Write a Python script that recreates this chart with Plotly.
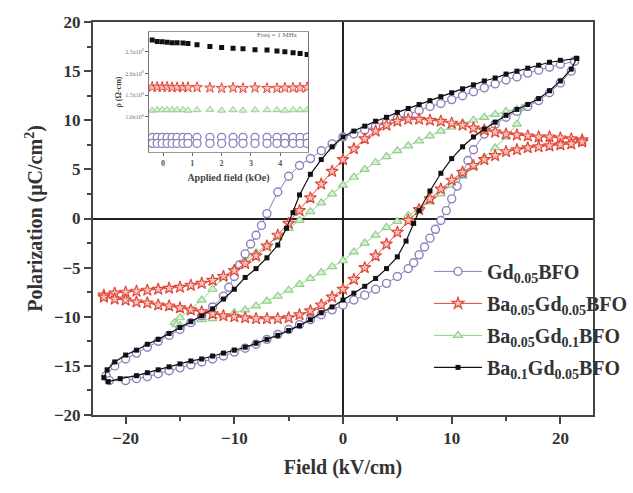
import plotly.graph_objects as go

# ---------------- main P-E loops ----------------
# Gd0.05BFO
gd_up_x = [21.3, 20, 19, 18, 17, 16, 15, 14, 13, 12, 11, 10, 9, 8, 7, 6, 5, 4, 3, 2, 1, 0, -1, -2, -3, -4, -5, -6, -7, -7.5, -8, -8.5, -9, -9.5, -10, -10.5, -11, -12, -13, -14, -15, -16, -17, -18, -19, -20, -21, -21.8]
gd_up_y = [16.0, 15.7, 15.4, 15.1, 14.8, 14.4, 14.1, 13.7, 13.3, 12.9, 12.5, 12.1, 11.7, 11.4, 11.0, 10.6, 10.2, 9.8, 9.4, 9.0, 8.6, 8.3, 7.6, 6.9, 6.1, 5.4, 4.3, 2.7, 0.5, -0.7, -1.7, -2.6, -3.6, -4.7, -5.9, -7.0, -7.9, -9.0, -9.9, -10.6, -11.3, -11.9, -12.5, -13.1, -13.7, -14.3, -15.0, -16.0]
gd_lo_x = [-21.5, -20, -19, -18, -17, -16, -15, -14, -13, -12, -11, -10, -9, -8, -7, -6, -5, -4, -3, -2, -1, 0, 1, 2, 3, 4, 5, 6, 6.5, 7, 7.5, 8, 8.5, 9, 9.5, 10, 10.5, 11, 11.5, 12, 13, 14, 15, 16, 17, 18, 19, 20, 21, 21.3]
gd_lo_y = [-16.5, -16.5, -16.3, -16.1, -15.8, -15.5, -15.2, -14.9, -14.6, -14.3, -14.0, -13.6, -13.2, -12.8, -12.3, -11.8, -11.3, -10.8, -10.3, -9.8, -9.3, -8.8, -8.3, -7.8, -7.2, -6.6, -5.9, -5.1, -4.5, -3.7, -2.9, -2.0, -1.1, -0.2, 0.8, 2.0, 3.3, 4.6, 5.9, 7.0, 8.6, 9.6, 10.3, 10.9, 11.4, 12.0, 12.8, 13.8, 15.0, 16.0]

# Ba0.05Gd0.05BFO
bg1_up_x = [22, 21, 20, 19, 18, 17, 16, 15, 14, 13, 12, 11, 10, 9, 8, 7, 6, 5, 4, 3, 2, 1, 0, -1, -2, -3, -4, -5, -6, -7, -8, -9, -10, -11, -12, -13, -14, -15, -16, -17, -18, -19, -20, -21, -22]
bg1_up_y = [8.0, 8.1, 8.2, 8.3, 8.3, 8.4, 8.5, 8.6, 8.8, 9.0, 9.2, 9.5, 9.7, 9.9, 10.0, 10.1, 10.1, 9.9, 9.5, 8.9, 8.1, 7.1, 6.0, 4.8, 3.5, 2.1, 0.8, -0.5, -1.7, -2.8, -3.8, -4.6, -5.3, -5.9, -6.3, -6.6, -6.8, -7.0, -7.1, -7.2, -7.3, -7.4, -7.5, -7.6, -7.8]
bg1_lo_x = [-22, -21, -20, -19, -18, -17, -16, -15, -14, -13, -12, -11, -10, -9, -8, -7, -6, -5, -4, -3, -2, -1, 0, 1, 2, 3, 4, 5, 6, 7, 8, 9, 10, 11, 12, 13, 14, 15, 16, 17, 18, 19, 20, 21, 22]
bg1_lo_y = [-8.0, -8.2, -8.3, -8.5, -8.6, -8.8, -8.9, -9.1, -9.3, -9.5, -9.7, -9.9, -10.0, -10.1, -10.2, -10.2, -10.2, -10.1, -9.8, -9.4, -8.8, -8.0, -7.2, -6.2, -5.0, -3.8, -2.6, -1.4, -0.2, 0.9, 2.0, 3.0, 3.9, 4.7, 5.4, 6.0, 6.4, 6.8, 7.0, 7.2, 7.3, 7.4, 7.5, 7.6, 7.8]

# Ba0.05Gd0.1BFO
bg2_up_x = [16.5, 16, 15, 14, 13, 12, 11, 10, 9, 8, 7, 6, 5, 4, 3, 2, 1, 0, -1, -2, -3, -4, -5, -6, -7, -8, -9, -10, -11, -12, -13, -14, -15, -15.5]
bg2_up_y = [11.2, 11.1, 10.9, 10.6, 10.3, 10.0, 9.7, 9.3, 8.9, 8.4, 7.9, 7.4, 6.9, 6.3, 5.7, 5.0, 4.2, 3.4, 2.5, 1.6, 0.7, -0.2, -1.0, -1.9, -2.7, -3.5, -4.3, -5.1, -6.0, -7.2, -8.3, -9.2, -10.1, -10.6]
bg2_lo_x = [-15.3, -15, -14, -13, -12, -11, -10, -9, -8, -7, -6, -5, -4, -3, -2, -1, 0, 1, 2, 3, 4, 5, 6, 7, 8, 9, 10, 11, 12, 13, 14, 15, 16, 16.5]
bg2_lo_y = [-10.8, -10.9, -10.6, -10.3, -10.2, -9.9, -9.6, -9.3, -8.9, -8.4, -7.9, -7.3, -6.7, -6.1, -5.5, -4.9, -4.3, -3.4, -2.5, -1.7, -0.9, -0.3, 0.3, 1.0, 1.7, 2.5, 3.4, 4.3, 5.2, 6.2, 7.2, 8.3, 9.6, 11.2]

# Ba0.1Gd0.05BFO
bg3_up_x = [21.5, 20, 19, 18, 17, 16, 15, 14, 13, 12, 11, 10, 9, 8, 7, 6, 5, 4, 3, 2, 1, 0, -1, -2, -3, -4, -4.6, -5.2, -6, -7, -8, -9, -10, -11, -12, -13, -14, -15, -16, -17, -18, -19, -20, -21, -21.7, -22]
bg3_up_y = [16.3, 16.1, 15.9, 15.6, 15.3, 15.0, 14.7, 14.3, 14.0, 13.6, 13.2, 12.8, 12.4, 12.0, 11.6, 11.2, 10.8, 10.3, 9.9, 9.4, 8.9, 8.3, 7.3, 6.0, 4.5, 2.4, 0.6, -1.0, -2.7, -4.0, -5.1, -6.0, -7.2, -8.2, -9.2, -9.9, -10.5, -11.1, -11.7, -12.3, -12.8, -13.4, -13.9, -14.6, -15.4, -16.2]
bg3_lo_x = [-21.6, -20.5, -19, -18, -17, -16, -15, -14, -13, -12, -11, -10, -9, -8, -7, -6, -5, -4, -3, -2, -1, 0, 1, 2, 3, 4, 5, 5.8, 6.5, 7, 8, 9, 10, 11, 12, 13, 14, 15, 16, 17, 18, 19, 20, 21, 21.5]
bg3_lo_y = [-16.6, -16.3, -16.0, -15.7, -15.4, -15.1, -14.8, -14.5, -14.3, -14.0, -13.7, -13.4, -13.1, -12.7, -12.3, -11.9, -11.4, -10.9, -10.3, -9.6, -9.0, -8.3, -7.6, -6.9, -6.1, -5.1, -3.9, -2.3, -0.5, 0.8, 2.8, 4.6, 6.1, 7.3, 8.3, 9.1, 9.8, 10.5, 11.1, 11.6, 12.2, 13.0, 14.0, 15.2, 16.3]

names = ["Gd<sub>0.05</sub>BFO", "Ba<sub>0.05</sub>Gd<sub>0.05</sub>BFO",
         "Ba<sub>0.05</sub>Gd<sub>0.1</sub>BFO", "Ba<sub>0.1</sub>Gd<sub>0.05</sub>BFO"]

# ---------------- inset: resistivity vs applied field ----------------
ins_x = [-0.37, -0.2, -0.03, 0.14, 0.31, 0.48, 0.68, 0.85, 1.16, 1.6, 2.0, 2.39, 2.73, 3.14, 3.55, 3.89, 4.16, 4.44, 4.68, 4.92]
ins_black = [2.77, 2.74, 2.73, 2.72, 2.71, 2.71, 2.70, 2.69, 2.66, 2.62, 2.60, 2.58, 2.57, 2.55, 2.54, 2.52, 2.50, 2.48, 2.46, 2.44]
ins_red = [1.69, 1.69, 1.69, 1.69, 1.68, 1.68, 1.68, 1.68, 1.68, 1.67, 1.66, 1.67, 1.66, 1.67, 1.66, 1.66, 1.67, 1.67, 1.67, 1.68]
ins_green = [1.15, 1.16, 1.16, 1.16, 1.16, 1.16, 1.16, 1.15, 1.16, 1.17, 1.15, 1.16, 1.15, 1.16, 1.16, 1.16, 1.15, 1.16, 1.16, 1.16]
ins_purple_hi = [0.53, 0.53, 0.53, 0.53, 0.53, 0.53, 0.53, 0.53, 0.53, 0.53, 0.53, 0.53, 0.53, 0.53, 0.53, 0.53, 0.53, 0.53, 0.53, 0.53]
ins_purple_lo = [0.39, 0.39, 0.39, 0.39, 0.39, 0.39, 0.39, 0.39, 0.39, 0.39, 0.39, 0.39, 0.39, 0.39, 0.39, 0.39, 0.39, 0.39, 0.39, 0.39]
ins_ytickvals = [1.0, 1.5, 2.0, 2.5]
ins_yticktext = ["1.0x10<sup>8</sup>", "1.5x10<sup>8</sup>", "2.0x10<sup>8</sup>", "2.5x10<sup>8</sup>"]
ins_xtickvals = [0, 1, 2, 3, 4]

SERIF = "Liberation Serif"
C_PUR = "#8a80bd"
C_RED = "#e2483a"
C_GRN = "#93cf8e"
C_BLK = "#111111"

fig = go.Figure()

# draw order: green, purple, red, black
fig.add_trace(go.Scatter(
    x=bg2_up_x + bg2_lo_x, y=bg2_up_y + bg2_lo_y, mode="lines+markers", name=names[2], legendrank=3,
    legendgroup="g3",
    line=dict(color=C_GRN, width=1),
    marker=dict(symbol="triangle-up", size=8, color="#d9f0d5", line=dict(color=C_GRN, width=1.2))))
fig.add_trace(go.Scatter(
    x=gd_up_x + gd_lo_x, y=gd_up_y + gd_lo_y, mode="lines+markers", name=names[0], legendrank=1,
    legendgroup="g1",
    line=dict(color=C_PUR, width=1),
    marker=dict(symbol="circle", size=8, color="white", line=dict(color=C_PUR, width=1.4))))
fig.add_trace(go.Scatter(
    x=bg1_up_x + bg1_lo_x, y=bg1_up_y + bg1_lo_y, mode="lines+markers", name=names[1], legendrank=2,
    legendgroup="g2",
    line=dict(color=C_RED, width=1),
    marker=dict(symbol="star", size=9, color="#f7c4bc", line=dict(color=C_RED, width=1.2))))
fig.add_trace(go.Scatter(
    x=bg3_up_x + bg3_lo_x, y=bg3_up_y + bg3_lo_y, mode="lines+markers", name=names[3], legendrank=4,
    legendgroup="g4",
    line=dict(color=C_BLK, width=1.2),
    marker=dict(symbol="square", size=5, color=C_BLK)))

# inset traces
fig.add_trace(go.Scatter(x=ins_x, y=ins_black, mode="markers", xaxis="x2", yaxis="y2", showlegend=False,
                         marker=dict(symbol="square", size=5, color=C_BLK)))
fig.add_trace(go.Scatter(x=ins_x, y=ins_red, mode="markers", xaxis="x2", yaxis="y2", showlegend=False,
                         marker=dict(symbol="star", size=8, color="#f7c4bc", line=dict(color=C_RED, width=1))))
fig.add_trace(go.Scatter(x=ins_x, y=ins_green, mode="markers", xaxis="x2", yaxis="y2", showlegend=False,
                         marker=dict(symbol="triangle-up", size=7, color="#d9f0d5", line=dict(color=C_GRN, width=1))))
fig.add_trace(go.Scatter(x=ins_x + ins_x, y=ins_purple_hi + ins_purple_lo, mode="markers", xaxis="x2", yaxis="y2",
                         showlegend=False,
                         marker=dict(symbol="circle", size=8, color="white", line=dict(color=C_PUR, width=1.3))))

axis_font = dict(family=SERIF, size=17, color="#333333", weight="bold")
fig.update_layout(
    width=633, height=493,
    margin=dict(l=93, r=40, t=22, b=78, autoexpand=False),
    paper_bgcolor="white", plot_bgcolor="white",
    font=dict(family=SERIF, color="#333333"),
    xaxis=dict(range=[-23, 23], dtick=10, tick0=0, ticks="outside", ticklen=7, tickwidth=1.5, tickcolor="#444",
               minor=dict(dtick=5, ticks="outside", ticklen=4, tickcolor="#444"),
               showline=True, linecolor="#444", linewidth=2, mirror=True, showgrid=False,
               zeroline=True, zerolinecolor="#222", zerolinewidth=1.5,
               tickfont=axis_font,
               title=dict(text="Field (kV/cm)", font=dict(family=SERIF, size=20, color="#333333", weight="bold"),
                          standoff=13)),
    yaxis=dict(range=[-20, 20], dtick=5, tick0=0, ticks="outside", ticklen=7, tickwidth=1.5, tickcolor="#444",
               minor=dict(dtick=2.5, ticks="outside", ticklen=4, tickcolor="#444"),
               showline=True, linecolor="#444", linewidth=2, mirror=True, showgrid=False,
               zeroline=True, zerolinecolor="#222", zerolinewidth=1.5,
               tickfont=axis_font,
               title=dict(text="Polarization (μC/cm<sup>2</sup>)",
                          font=dict(family=SERIF, size=20, color="#333333", weight="bold"), standoff=6)),
    xaxis2=dict(domain=[0.112, 0.43], anchor="y2", range=[-0.48, 4.95], tickvals=ins_xtickvals,
                ticks="outside", ticklen=3, tickcolor="#666", showline=True, linecolor="#999", linewidth=1,
                mirror=True, showgrid=False, zeroline=False,
                tickfont=dict(family=SERIF, size=8, color="#555", weight="bold"),
                title=dict(text="Applied field (kOe)", font=dict(family=SERIF, size=10, color="#444", weight="bold"),
                           standoff=7)),
    yaxis2=dict(domain=[0.669, 0.975], anchor="x2", range=[0.19, 2.96], tickvals=ins_ytickvals,
                ticktext=ins_yticktext, ticks="outside", ticklen=3, tickcolor="#666", showline=True,
                linecolor="#777", linewidth=1, mirror=True, showgrid=False, zeroline=False,
                tickfont=dict(family=SERIF, size=6, color="#777"),
                title=dict(text="ρ (Ω-cm)", font=dict(family=SERIF, size=8, color="#444", weight="bold"),
                           standoff=2)),
    legend=dict(x=0.672, y=0.415, xanchor="left", yanchor="top", bgcolor="rgba(0,0,0,0)",
                font=dict(family=SERIF, size=20, color="#333333", weight="bold"),
                itemwidth=48, tracegroupgap=3),
    annotations=[dict(text="Freq = 1 MHz", xref="x2", yref="y2", x=3.9, y=2.88, showarrow=False,
                      font=dict(family=SERIF, size=7, color="#666"))],
)

fig.write_html("out.html")
